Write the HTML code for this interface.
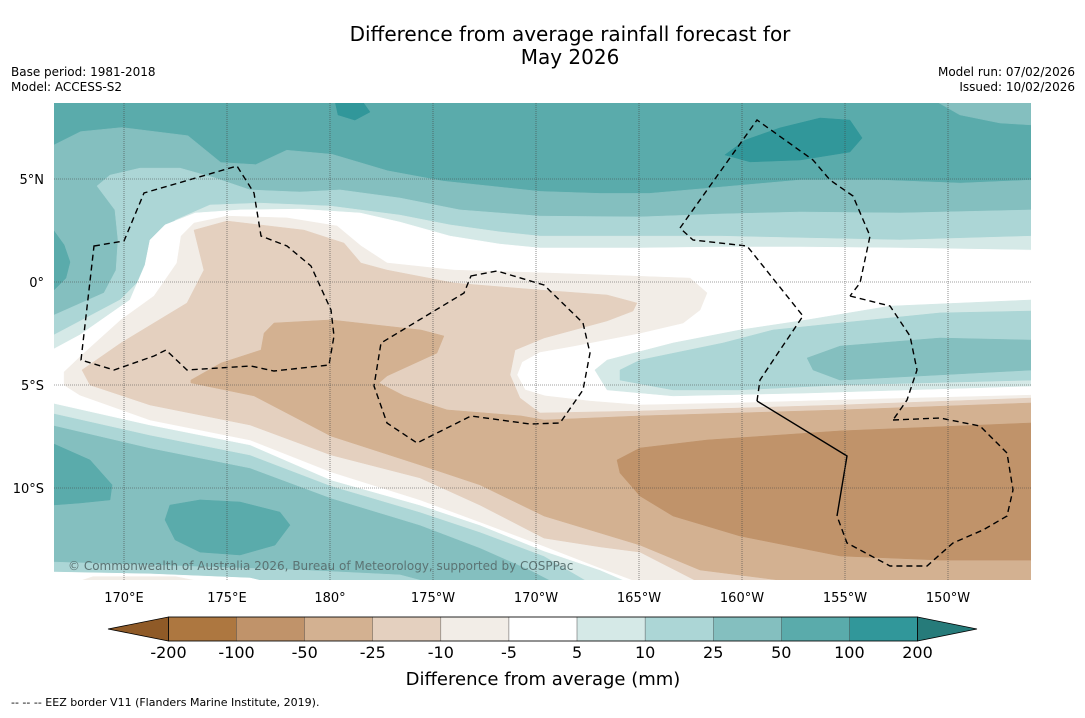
<!DOCTYPE html>
<html><head><meta charset="utf-8"><style>
body{margin:0;background:#fff;}
svg text{font-family:"DejaVu Sans","Liberation Sans",sans-serif;}
</style></head><body>
<svg id="chart" width="1085" height="713" viewBox="0 0 1085 713" xmlns="http://www.w3.org/2000/svg">
<rect width="1085" height="713" fill="#fff"/>
<text x="570" y="41" font-size="20" text-anchor="middle" fill="#000">Difference from average rainfall forecast for</text>
<text x="570" y="64" font-size="20" text-anchor="middle" fill="#000">May 2026</text>
<text x="11" y="76" font-size="12">Base period: 1981-2018</text>
<text x="11" y="91" font-size="12">Model: ACCESS-S2</text>
<text x="1075" y="76" font-size="12" text-anchor="end">Model run: 07/02/2026</text>
<text x="1075" y="91" font-size="12" text-anchor="end">Issued: 10/02/2026</text>
<defs><clipPath id="mapclip"><rect x="54" y="103" width="977" height="477"/></clipPath></defs>
<g id="map" clip-path="url(#mapclip)"></g>
<g id="eez" clip-path="url(#mapclip)" fill="none" stroke="#000" stroke-width="1.4">
<path stroke-dasharray="6,4" d="M94,246 L124,241 L144,193 L237,166 L254,193 L261,236 L287,246 L311,266 L331,310 L334,336 L329,365 L274,371 L251,366 L187,370 L166,350 L154,356 L114,370 L81,360 Z"/>
<path stroke-dasharray="6,4" d="M471,276 L497,271 L544,285 L583,323 L590,353 L583,390 L560,423 L530,424 L471,416 L417,443 L387,423 L374,386 L381,343 L464,293 Z"/>
<path stroke-dasharray="6,4" d="M757,401 L760,380 L780,350 L803,316 L747,246 L693,240 L680,228 L757,120 L813,160 L830,180 L853,196 L870,236 L860,283 L850,296"/>
<path stroke-dasharray="6,4" d="M850,296 L890,306 L910,336 L917,370 L907,400 L893,420"/>
<path stroke-dasharray="6,4" d="M893,420 L940,418 L980,426 L1007,453 L1013,490 L1007,516 L983,530 L953,543 L927,566 L890,566 L847,543 L837,516"/>
<path d="M757,401 L847,456 L837,516"/>
</g>
<rect x="54" y="103" width="977" height="477" fill="none" stroke="none"/>
<text x="68" y="570" font-size="12" fill="#5b7373">© Commonwealth of Australia 2026, Bureau of Meteorology, supported by COSPPac</text>
<g id="axes"></g>
<g id="cbar"></g>
<text x="543" y="685" font-size="18" text-anchor="middle">Difference from average (mm)</text>
<text x="11" y="706" font-size="11">--  --  -- EEZ border V11 (Flanders Marine Institute, 2019).</text>
</svg>
<script>
// ---- data (lon °E 0-360, lat °N) ----
const lonTicks = [170,175,180,185,190,195,200,205,210];
const lonTickLabels = ["170°E","175°E","180°","175°W","170°W","165°W","160°W","155°W","150°W"];
const latTicks = [5,0,-5,-10];
const latTickLabels = ["5°N","0°","5°S","10°S"];
const cbarBounds = ["-200","-100","-50","-25","-10","-5","5","10","25","50","100","200"];
const cbarColors = ["#ad7740","#c0936a","#d3b191","#e4d0bf","#f2ede7","#ffffff","#d5e9e7","#acd6d6","#84bfbf","#5aabab","#31979a"];
const cbarLow = "#8f5a27", cbarHigh = "#267b7a";

const bgLevel = "50-100";
const region_lt50 = [[166.5,6.6],[167.9,7.3],[169.9,7.5],[173.1,7.1],[174.7,5.8],[176.4,5.7],[177.9,6.4],[180.1,6.2],[182.8,5.4],[185.5,4.9],[190.2,4.4],[193.1,4.3],[195.5,4.3],[198.9,4.6],[202.8,4.95],[206.7,4.95],[210.6,4.8],[214.1,4.95],[214.1,-14.6],[166.5,-14.6]];
const cornerNE_25 = [[209.37,8.8],[210.58,8.11],[212.52,7.72],[214.1,7.62],[214.1,8.8]];
const wet100_north = [[199.17,6.17],[200.15,6.89],[201.84,7.48],[203.79,7.96],[205.24,7.86],[205.83,6.99],[205.24,6.31],[202.82,5.92],[200.39,5.83]];
const wet100_top = [[180.24,8.8],[180.39,8.11],[181.21,7.86],[181.94,8.25],[181.55,8.8]];
const wet50_westEdge = [[166.5,2.62],[167.09,1.8],[167.38,0.97],[167.18,0.19],[166.5,-0.49]];
const wet50_southWest = [[166.5,-7.82],[168.35,-8.64],[169.42,-9.85],[169.32,-10.58],[167.86,-10.73],[166.5,-10.83]];
const wet50_south = [[172.23,-10.83],[173.69,-10.58],[175.63,-10.68],[177.57,-11.17],[178.06,-11.8],[177.33,-12.77],[175.63,-13.25],[173.69,-13.11],[172.48,-12.52],[171.99,-11.55]];
const region_lt25 = [[168.69,4.66],[169.32,5.19],[170.78,5.53],[172.72,5.53],[174.42,5.05],[176.12,4.47],[178.54,4.37],[180.49,4.47],[183.4,4.08],[186.31,3.5],[190.19,3.2],[195.05,3.16],[198.93,3.3],[202.82,3.4],[207.67,3.35],[214.1,3.5],[214.1,-14.6],[190.92,-14.6],[189.71,-13.98],[187.28,-12.91],[184.37,-11.8],[180.05,-10.49],[176.12,-9.03],[171.26,-8.06],[166.5,-6.94],[166.5,-1.65],[169.03,-0.53],[169.61,0.58],[169.71,2.04],[169.56,3.5]];
const region_lt10 = [[166.5,-2.62],[169.81,-0.87],[171.26,0.58],[171.75,2.04],[172.48,3.0],[174.17,3.74],[176.6,3.83],[180.0,3.69],[183.4,3.25],[185.83,2.77],[188.25,2.43],[190.19,2.23],[195.05,2.23],[198.93,2.23],[202.82,2.14],[207.67,2.04],[214.1,2.23],[214.1,-14.6],[192.62,-14.6],[190.39,-13.3],[187.28,-12.14],[184.37,-11.17],[180.05,-9.9],[176.12,-8.4],[171.26,-7.43],[166.5,-6.36]];
const region_lt5 = [[166.5,-3.3],[167.86,-2.57],[170.29,-0.87],[171.02,0.83],[171.26,2.04],[171.99,2.77],[173.45,3.35],[175.63,3.5],[178.54,3.54],[181.46,3.35],[183.4,2.91],[185.83,2.23],[188.25,1.84],[190.19,1.65],[195.05,1.65],[198.93,1.7],[202.82,1.7],[207.67,1.65],[214.1,1.55],[214.1,-14.6],[194.56,-14.6],[193.11,-13.98],[190.39,-13.06],[187.28,-11.8],[184.37,-10.83],[180.05,-9.61],[176.12,-7.91],[171.26,-6.94],[166.5,-5.87]];
const stripS_25 = [[166.5,-13.59],[171.26,-13.74],[178.54,-13.98],[183.4,-14.22],[184.85,-14.6],[166.5,-14.6]];
const stripS_5 = [[166.5,-14.08],[171.26,-14.17],[176.12,-14.37],[177.09,-14.6],[166.5,-14.6]];
const stripS_m5 = [[167.6,-14.6],[168.5,-14.3],[172.5,-14.3],[174.0,-14.6]];
const tongue_gt5 = [[214.1,-0.87],[207.18,-1.17],[203.16,-1.84],[199.9,-2.33],[196.65,-2.96],[193.45,-3.79],[192.86,-4.27],[193.45,-5.24],[196.65,-5.53],[203.16,-5.39],[214.1,-5.05]];
const tongue_gt10 = [[214.1,-1.41],[209.61,-1.5],[204.76,-1.99],[201.5,-2.33],[199.08,-2.96],[195.05,-3.79],[194.08,-4.27],[194.08,-4.76],[196.65,-5.24],[199.9,-5.24],[204.76,-5.0],[214.1,-4.76]];
const tongue_gt25 = [[203.16,-3.69],[204.76,-3.11],[209.61,-2.72],[214.1,-2.82],[214.1,-4.27],[209.61,-4.51],[204.76,-4.76],[203.45,-4.27]];
const region_ltm5 = [[167.09,-4.37],[167.91,-3.59],[169.85,-1.84],[171.46,-0.68],[172.57,0.92],[172.77,2.23],[173.4,2.86],[175.0,3.2],[177.91,3.11],[180.34,2.72],[181.5,1.75],[182.77,0.92],[186.02,0.58],[190.39,0.44],[197.48,0.19],[198.3,-0.53],[197.96,-1.36],[197.14,-1.99],[195.05,-2.48],[191.8,-3.11],[190.19,-3.4],[189.32,-3.88],[189.08,-4.51],[189.47,-5.24],[190.44,-5.53],[192.62,-5.78],[195.05,-5.97],[199.9,-5.87],[204.76,-5.73],[214.1,-5.49],[214.1,-14.6],[195.05,-14.6],[193.11,-13.88],[190.39,-12.82],[187.28,-11.65],[184.37,-10.58],[180.05,-9.22],[176.12,-7.67],[171.26,-6.7],[167.86,-5.49],[167.09,-5.0]];
const region_ltm10 = [[167.96,-4.27],[169.85,-2.96],[173.06,-1.02],[173.88,0.58],[173.4,2.52],[175.0,2.96],[178.74,2.52],[180.68,1.89],[181.5,0.92],[182.77,0.58],[186.02,-0.05],[190.19,-0.39],[193.45,-0.63],[194.9,-1.02],[194.71,-1.41],[193.45,-1.89],[190.39,-2.72],[188.98,-3.3],[188.74,-4.51],[189.22,-5.63],[190.19,-6.36],[195.05,-6.26],[204.76,-5.97],[214.1,-5.63],[214.1,-14.6],[197.96,-14.6],[195.05,-13.11],[193.11,-12.86],[190.39,-12.43],[187.28,-10.83],[184.37,-9.51],[180.05,-8.4],[176.12,-6.94],[171.26,-5.97],[168.35,-5.0]];
const region_ltm25 = [[173.25,-4.76],[174.71,-3.93],[176.65,-3.3],[176.8,-2.48],[177.28,-1.99],[180.05,-1.84],[184.42,-2.33],[185.53,-2.62],[185.19,-3.45],[182.77,-4.56],[182.38,-4.9],[183.59,-5.53],[185.68,-6.21],[189.27,-6.5],[190.39,-6.7],[195.05,-6.5],[204.76,-6.21],[214.1,-5.87],[214.1,-14.6],[202.82,-14.6],[197.96,-13.98],[195.05,-12.77],[190.39,-11.36],[187.28,-9.85],[184.37,-8.88],[180.05,-7.48],[176.31,-5.53],[173.25,-4.9]];
const region_ltm50 = [[193.93,-8.64],[195.05,-8.06],[198.3,-7.67],[204.76,-7.23],[214.1,-6.84],[214.1,-13.5],[209.61,-13.5],[204.76,-13.3],[199.9,-12.33],[196.65,-11.36],[195.05,-10.39],[194.08,-9.27]];

// ---- projection ----
const X = lon => 124 + (lon - 170) * 20.6;
const Y = lat => 282 - lat * 20.6;
const NS = "http://www.w3.org/2000/svg";
const levelColor = {"50-100":"#5aabab","100-200":"#31979a","25-50":"#84bfbf","10-25":"#acd6d6","5-10":"#d5e9e7","white":"#ffffff","m5":"#f2ede7","m10":"#e4d0bf","m25":"#d3b191","m50":"#c0936a"};
const map = document.getElementById('map');

const bg = document.createElementNS(NS,'rect');
bg.setAttribute('x',54);bg.setAttribute('y',103);bg.setAttribute('width',977);bg.setAttribute('height',477);
bg.setAttribute('fill',levelColor[bgLevel]);


map.appendChild(bg);

function poly(pts, lvl, name){
  const p = document.createElementNS(NS,'polygon');
  p.setAttribute('points', pts.map(d => X(d[0]).toFixed(1)+','+Y(d[1]).toFixed(1)).join(' '));
  p.setAttribute('fill', levelColor[lvl]);
  p.setAttribute('stroke', levelColor[lvl]);
  p.setAttribute('stroke-width', '0.5');
  
  
  map.appendChild(p);
}
poly(region_lt50,'25-50','contour-25-50');
poly(cornerNE_25,'25-50','contour-25-50-northeast');
poly(wet100_north,'100-200','contour-100-200-north');
poly(wet100_top,'100-200','contour-100-200-top');
poly(wet50_westEdge,'50-100','contour-50-100-west');
poly(wet50_southWest,'50-100','contour-50-100-southwest');
poly(wet50_south,'50-100','contour-50-100-south');
poly(region_lt25,'10-25','contour-10-25');
poly(region_lt10,'5-10','contour-5-10');
poly(region_lt5,'white','contour-near-average');
poly(stripS_25,'10-25','contour-10-25-south-strip');
poly(stripS_5,'white','contour-near-average-south-strip');
poly(stripS_m5,'m5','contour-m5-south-strip');
poly(tongue_gt5,'5-10','contour-5-10-tongue');
poly(tongue_gt10,'10-25','contour-10-25-tongue');
poly(tongue_gt25,'25-50','contour-25-50-tongue');
poly(region_ltm5,'m5','contour-minus10-minus5');
poly(region_ltm10,'m10','contour-minus25-minus10');
poly(region_ltm25,'m25','contour-minus50-minus25');
poly(region_ltm50,'m50','contour-minus100-minus50');

// gridlines and ticks
const axes = document.getElementById('axes');
lonTicks.forEach((lon,i) => {
  const l = document.createElementNS(NS,'line');
  l.setAttribute('x1',X(lon));l.setAttribute('x2',X(lon));l.setAttribute('y1',103);l.setAttribute('y2',580);
  l.setAttribute('stroke','#444');l.setAttribute('stroke-width','0.6');l.setAttribute('stroke-dasharray','1,1');
  
  
  axes.appendChild(l);
  const t = document.createElementNS(NS,'text');
  t.setAttribute('x',X(lon));t.setAttribute('y',602);t.setAttribute('font-size','13');t.setAttribute('text-anchor','middle');
  t.textContent = lonTickLabels[i];
  
  
  axes.appendChild(t);
});
latTicks.forEach((lat,i) => {
  const l = document.createElementNS(NS,'line');
  l.setAttribute('x1',54);l.setAttribute('x2',1031);l.setAttribute('y1',Y(lat));l.setAttribute('y2',Y(lat));
  l.setAttribute('stroke','#444');l.setAttribute('stroke-width','0.6');l.setAttribute('stroke-dasharray','1,1');
  
  
  axes.appendChild(l);
  const t = document.createElementNS(NS,'text');
  t.setAttribute('x',44);t.setAttribute('y',Y(lat)+5);t.setAttribute('font-size','13');t.setAttribute('text-anchor','end');
  t.textContent = latTickLabels[i];
  
  
  axes.appendChild(t);
});

// colorbar
const cb = document.getElementById('cbar');
const cbX0 = 168.5, cbX1 = 917.5, cbY = 617, cbH = 24;
const bw = (cbX1 - cbX0) / cbarColors.length;
const lo = document.createElementNS(NS,'polygon');
lo.setAttribute('points', `${cbX0},${cbY} 108,${cbY+cbH/2} ${cbX0},${cbY+cbH}`);
lo.setAttribute('fill', cbarLow); lo.setAttribute('stroke','#000'); lo.setAttribute('stroke-width','0.8');


cb.appendChild(lo);
const hi = document.createElementNS(NS,'polygon');
hi.setAttribute('points', `${cbX1},${cbY} 977,${cbY+cbH/2} ${cbX1},${cbY+cbH}`);
hi.setAttribute('fill', cbarHigh); hi.setAttribute('stroke','#000'); hi.setAttribute('stroke-width','0.8');


cb.appendChild(hi);
cbarColors.forEach((c,i) => {
  const r = document.createElementNS(NS,'rect');
  r.setAttribute('x', cbX0 + i*bw); r.setAttribute('y', cbY); r.setAttribute('width', bw); r.setAttribute('height', cbH);
  r.setAttribute('fill', c); r.setAttribute('stroke','#555'); r.setAttribute('stroke-width','0.4');
  
  
  cb.appendChild(r);
});
const frame = document.createElementNS(NS,'rect');
frame.setAttribute('x',cbX0);frame.setAttribute('y',cbY);frame.setAttribute('width',cbX1-cbX0);frame.setAttribute('height',cbH);
frame.setAttribute('fill','none');frame.setAttribute('stroke','#000');frame.setAttribute('stroke-width','0.8');


cb.appendChild(frame);
cbarBounds.forEach((b,i) => {
  const t = document.createElementNS(NS,'text');
  t.setAttribute('x', cbX0 + i*bw); t.setAttribute('y', 658); t.setAttribute('font-size','16'); t.setAttribute('text-anchor','middle');
  t.textContent = b;
  
  
  cb.appendChild(t);
});
</script>
</body></html>
